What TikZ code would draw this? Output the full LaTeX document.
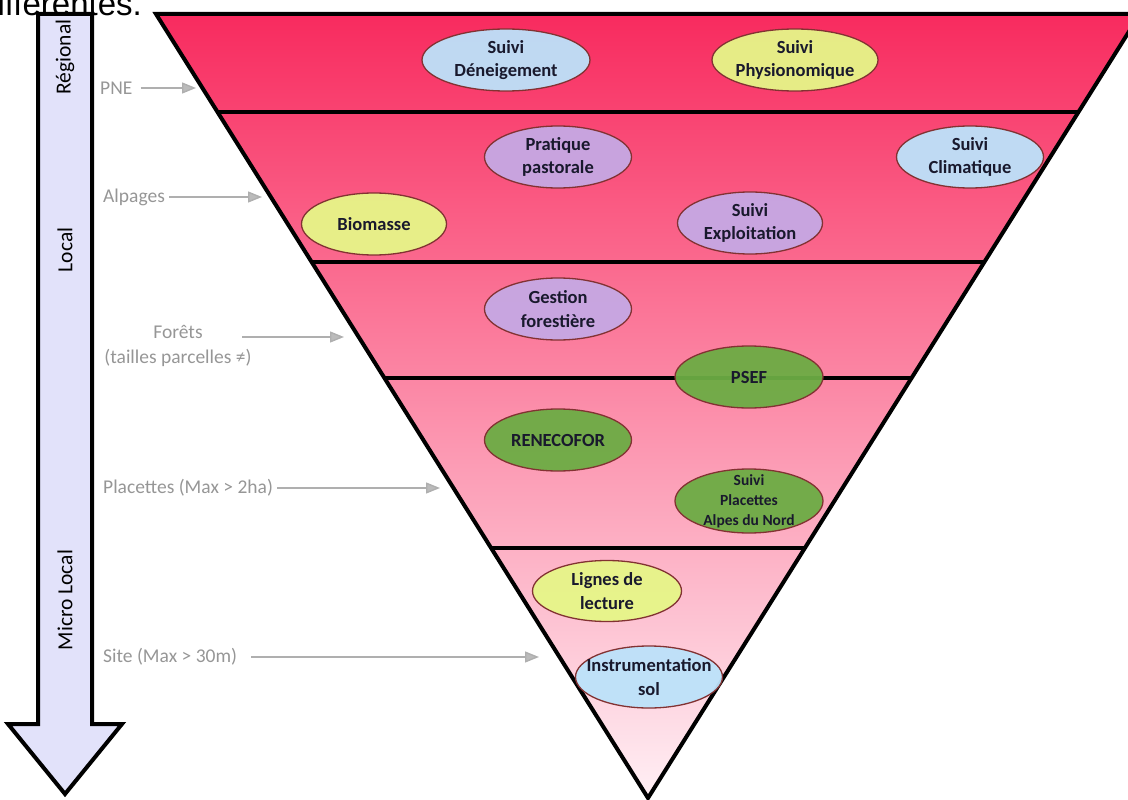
\documentclass[tikz,border=0pt]{standalone}
\usepackage{fontspec}
\setmainfont{Carlito}
\newfontfamily\bodyfont{Liberation Sans}
\usetikzlibrary{shapes.geometric,arrows.meta,calc}

\definecolor{topred}{RGB}{248,42,94}
\definecolor{bottompink}{RGB}{255,240,245}
\definecolor{ellline}{RGB}{130,50,50}
\definecolor{skyfill}{RGB}{188,226,250}
\definecolor{limefill}{RGB}{230,246,136}
\definecolor{lilacfill}{RGB}{198,168,228}
\definecolor{leaffill}{RGB}{108,172,68}
\definecolor{ink}{RGB}{25,25,45}
\definecolor{shaftfill}{RGB}{226,226,250}
\definecolor{labelgray}{RGB}{150,150,150}
\definecolor{arrowgray}{RGB}{175,175,175}

\begin{document}
\begin{tikzpicture}[x=1pt,y=-1pt,
  bigarrow/.style={draw=black,line width=4pt,fill=shaftfill,line join=miter},
  scaletext/.style={rotate=90,font=\fontsize{21.5}{24}\selectfont,text=black,inner sep=0pt},
  rim/.style={draw=black,line width=4pt,line join=miter},
  band/.style={draw=black,line width=4pt},
  bubble/.style={ellipse,draw=ellline,line width=1.3pt,fill opacity=0.95,text opacity=1,
    minimum width=147pt,minimum height=62pt,inner xsep=-60pt,inner ysep=-30pt,align=center,
    font=\bfseries\fontsize{18.5}{23.5}\selectfont,text=ink},
  sky/.style={bubble,fill=skyfill},
  lime/.style={bubble,fill=limefill},
  lilac/.style={bubble,fill=lilacfill},
  leaf/.style={bubble,fill=leaffill},
  tag/.style={font=\fontsize{19.5}{25}\selectfont,text=labelgray,inner sep=0pt},
  pointer/.style={draw=arrowgray,line width=1.4pt,
    -{Triangle[length=14pt,width=11pt,fill=arrowgray!85]}}
]
\useasboundingbox (0,0) rectangle (1128,800);

% end of the sentence above the figure
\node[anchor=base west,inner sep=0pt,font=\bodyfont\fontsize{33}{33}\selectfont] (intro) at (-21,15.5) {différentes.};

% scale arrow on the left
\draw[bigarrow] (38,14) -- (92,14) -- (92,724) -- (122,724) -- (65,794) -- (8,724) -- (38,724) -- cycle;
\node[scaletext] (reg) at (65,57) {Régional};
\node[scaletext] (loc) at (65,250) {Local};
\node[scaletext] (micro) at (65,600) {Micro Local};

% inverted pyramid
\coordinate (tl) at (156,14);
\coordinate (tr) at (1140,14);
\coordinate (apex) at (648,798);
\begin{scope}
  \clip (tl) -- (tr) -- (apex) -- cycle;
  \shade[top color=topred,bottom color=bottompink] (150,12) rectangle (1145,800);
\end{scope}
\foreach \t in {0.125,0.3163,0.4643,0.6811}
  \draw[band] ($(tl)!\t!(apex)$) -- ($(tr)!\t!(apex)$);
\draw[rim] (tl) -- (tr) -- (apex) -- cycle;

% monitoring schemes
\node[sky,minimum width=168pt] (deneig) at (506,60) {Suivi\\Déneigement};
\node[lime,minimum width=166pt] (physio) at (795,60) {Suivi\\Physionomique};
\node[lilac] (pastor) at (558,157) {Pratique\\pastorale};
\node[sky] (clim) at (970,157) {Suivi\\Climatique};
\node[lime,minimum width=145pt] (biom) at (374,224) {Biomasse};
\node[lilac,minimum width=145pt] (exploit) at (750,223) {Suivi\\Exploitation};
\node[lilac] (forest) at (558,309) {Gestion\\forestière};
\node[leaf,minimum width=148pt] (psef) at (749,377) {PSEF};
\node[leaf] (reneco) at (558,440) {RENECOFOR};
\node[leaf,minimum width=148pt,minimum height=64pt,
  font=\bfseries\fontsize{15.5}{20}\selectfont] (alpes) at (749,501) {Suivi\\Placettes\\Alpes du Nord};
\node[lime,minimum width=149pt,minimum height=61pt] (lignes) at (607,591) {Lignes de\\lecture};
\node[sky] (instr) at (649,677) {Instrumentation\\sol};

% spatial levels
\node[tag,anchor=west] (pne) at (100,88) {PNE};
\node[tag,anchor=west] (alp) at (103,197) {Alpages};
\node[tag,align=center] (for) at (178,346) {Forêts\\(tailles parcelles ≠)};
\node[tag,anchor=west] (plac) at (103,488) {Placettes (Max > 2ha)};
\node[tag,anchor=west] (site) at (103,657) {Site (Max > 30m)};

\coordinate (pneTip) at (196,88);
\coordinate (alpTip) at (262,197);
\coordinate (forFrom) at (242,337);
\coordinate (forTip) at (344,337);
\coordinate (placTip) at (440,488);
\coordinate (siteTip) at (539,657);

\draw[pointer] ([xshift=8pt]pne.east) -- (pneTip);
\draw[pointer] ([xshift=4pt]alp.east) -- (alpTip);
\draw[pointer] (forFrom) -- (forTip);
\draw[pointer] ([xshift=4pt]plac.east) -- (placTip);
\draw[pointer] ([xshift=14pt]site.east) -- (siteTip);
\end{tikzpicture}
\end{document}
